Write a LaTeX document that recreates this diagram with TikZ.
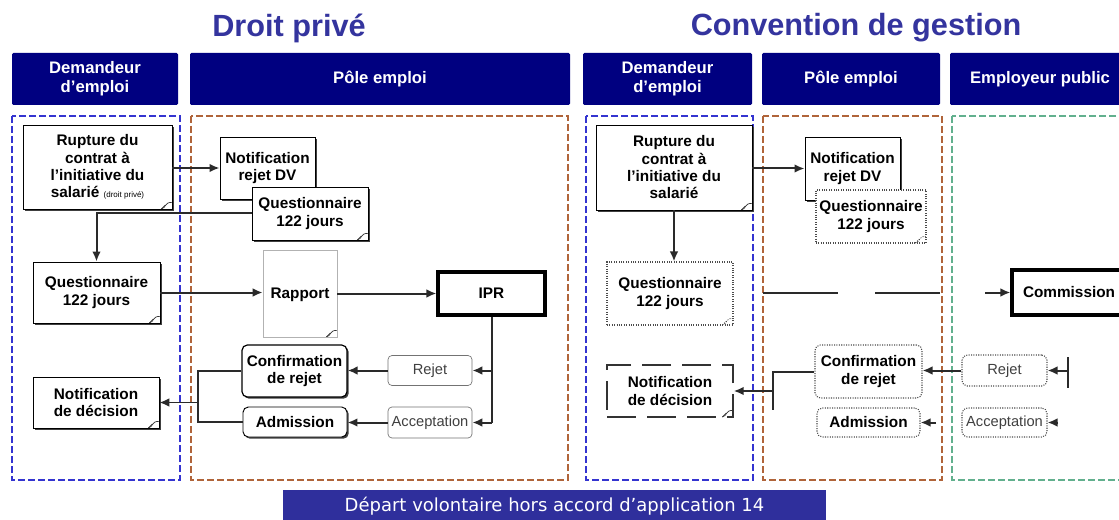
\documentclass[tikz,border=0pt]{standalone}
\usepackage{fontspec}
\setmainfont{Liberation Sans}
\newfontfamily\barfont{DejaVu Sans}
\usetikzlibrary{arrows.meta,shadows,calc}
\definecolor{navy}{HTML}{000080}
\definecolor{titleblue}{HTML}{34349E}
\definecolor{barblue}{HTML}{2F2F9C}
\definecolor{dblue}{HTML}{3434D0}
\definecolor{dbrown}{HTML}{B0643A}
\definecolor{dgreen}{HTML}{62B08E}
\definecolor{ink}{HTML}{2A2A2A}
\tikzset{
  sz/.style 2 args={minimum width=#1*0.75pt, minimum height=#2*0.75pt},
  nodetxt/.style={font=\fontsize{11.5}{13}\selectfont\bfseries, align=center, inner sep=0pt, text=black},
  plaintxt/.style={font=\fontsize{11}{13}\selectfont, align=center, inner sep=0pt, text=black!75},
  hdr/.style={fill=navy, text=white, font=\fontsize{12.5}{14.5}\selectfont\bfseries, align=center, inner sep=0pt, rounded corners=1pt},
  ttl/.style={text=titleblue, font=\fontsize{23}{26}\selectfont\bfseries, inner sep=0pt},
  shd/.style={drop shadow={shadow xshift=1.3pt, shadow yshift=-1.3pt, fill=black!75, opacity=1}},
  fold/.style={path picture={
      \draw[line width=0.5pt, black!80]
        ([xshift=-8pt]path picture bounding box.south east)
        .. controls ([xshift=-4pt,yshift=1pt]path picture bounding box.south east)
        and ([xshift=-6pt,yshift=5pt]path picture bounding box.south east) ..
        ([yshift=5pt]path picture bounding box.south east);
      \draw[line width=0.5pt, black!80]
        ([xshift=-8pt]path picture bounding box.south east) -- ([xshift=-5pt,yshift=3pt]path picture bounding box.south east);}},
  doc/.style={nodetxt, draw=black, line width=0.7pt, fill=white, fold, shd},
  faintdoc/.style={nodetxt, draw=black!30, line width=0.5pt, fill=white, fold},
  dotdoc/.style={nodetxt, draw=black!70, densely dotted, line width=0.8pt, fill=white, fold},
  rbox/.style={nodetxt, draw=black, line width=0.9pt, fill=white, rounded corners=4pt, shd},
  rthin/.style={plaintxt, draw=black!55, line width=0.5pt, fill=white, rounded corners=3pt},
  rdot/.style={nodetxt, draw=black!70, densely dotted, line width=0.8pt, fill=white, rounded corners=4pt},
  thick box/.style={nodetxt, draw=black, line width=2.3pt, fill=white},
  zone/.style={line width=1.1pt, dash pattern=on 5pt off 2.5pt},
  conn/.style={draw=ink, line width=1.5pt},
  arr/.style={conn, -{Latex[length=7.5pt,width=6.5pt]}}
}
\begin{document}
\begin{tikzpicture}[x=0.75pt,y=-0.75pt]
\useasboundingbox (0,0) rectangle (1119,520);
\fill[white] (0,0) rectangle (1119,520);

% titles
\node[ttl] (t1) at (289,28) {Droit privé};
\node[ttl] (t2) at (856,28) {Convention de gestion};

% headers
\node[hdr, sz={166}{52}] (h1) at (95,79) {Demandeur\\d’emploi};
\node[hdr, sz={380}{52}] (h2) at (380,79) {Pôle emploi};
\node[hdr, sz={169}{52}] (h3) at (667.5,79) {Demandeur\\d’emploi};
\node[hdr, sz={178}{52}] (h4) at (851,79) {Pôle emploi};
\node[hdr, sz={180}{52}] (h5) at (1040,79) {Employeur public};

% swimlanes
\draw[zone, dblue, line width=0.9pt] (12,116) rectangle (180,480);
\draw[zone, dbrown, line width=1.4pt] (191,116) rectangle (568,480);
\draw[zone, dblue, line width=1.4pt] (586,116) rectangle (753,480);
\draw[zone, dbrown] (763,116) rectangle (942,480);
\draw[zone, dgreen] (952,116) rectangle (1125,480);

% ---------- Droit privé ----------
\node[doc, sz={149}{84}] (lrup) at (97.5,167)
  {Rupture du\\contrat à\\l’initiative du\\salarié {\fontsize{6}{7}\selectfont\mdseries(droit privé)}};
\node[doc, fold/.style={}, sz={95}{62}] (lnot) at (267.5,168) {Notification\\rejet DV};
\node[doc, sz={116}{53}] (lqp) at (310,213.5) {Questionnaire\\122 jours};
\node[doc, sz={127}{61}] (lql) at (96.5,292.5) {Questionnaire\\122 jours};
\node[faintdoc, sz={74}{87}, text depth=0pt] (lrap) at (300,293.5) {Rapport};
\node[thick box, sz={107}{43}] (ipr) at (491.5,293.5) {IPR};
\node[rbox, sz={105}{52}] (lconf) at (294.5,371) {Confirmation\\de rejet};
\node[rbox, line width=0.7pt, sz={104}{30}] (ladm) at (295,422) {Admission};
\node[rthin, sz={84}{30}] (lrej) at (430,370.5) {Rejet};
\node[rthin, sz={84}{31}] (lacc) at (430,422.5) {Acceptation};
\node[doc, sz={126}{51}] (lnd) at (96,402.5) {Notification\\de décision};

\draw[arr] (lrup.east |- lnot.west) -- (lnot.west);
\draw[arr] (lqp.west) -| (lql.north);
\draw[arr] (lql.east) -- (lql.east -| lrap.west);
\draw[arr] (lrap.east |- ipr.west) -- (ipr.west);
\draw[conn] (ipr.south) -- (ipr.south |- lacc.east);
\draw[arr] (ipr.south |- lrej.east) -- (lrej.east);
\draw[arr] (ipr.south |- lacc.east) -- (lacc.east);
\draw[arr] (lrej.west) -- (lrej.west -| lconf.east);
\draw[arr] (lacc.west) -- (lacc.west -| ladm.east);
\coordinate (lj) at (198,371);
\draw[conn, line width=2pt] (lconf.west) -- (lconf.west -| lj) -- (ladm.west -| lj) -- (ladm.west);
\draw[arr, line width=1pt] (lj |- lnd.east) -- (lnd.east);

% ---------- Convention de gestion ----------
\node[doc, sz={156}{85}] (rrup) at (674,167.5) {Rupture du\\contrat à\\l’initiative du\\salarié};
\node[doc, fold/.style={}, sz={95}{63}] (rnot) at (852.5,168.5) {Notification\\rejet DV};
\node[dotdoc, sz={110}{53}] (rqp) at (871,216.5) {Questionnaire\\122 jours};
\node[dotdoc, sz={126}{63}] (rql) at (670,293.5) {Questionnaire\\122 jours};
\node[thick box, sz={114}{45}] (com) at (1069,292.5) {Commission};
\node[rdot, sz={107}{53}] (rconf) at (868.5,371.5) {Confirmation\\de rejet};
\node[rdot, sz={103}{29}] (radm) at (868.5,422.5) {Admission};
\node[rdot, plaintxt, sz={85}{31}] (rrej) at (1004.5,370.5) {Rejet};
\node[rdot, plaintxt, sz={85}{29}] (racc) at (1004.5,422.5) {Acceptation};
\node[nodetxt, draw=black!80, line width=1pt, dash pattern=on 22pt off 8pt, fill=white, fold, sz={126}{52}] (rnd) at (670,391) {Notification\\de décision};

\draw[arr] (rrup.east |- rnot.west) -- (rnot.west);
\draw[arr] (rrup.south) -- (rrup.south |- rql.north);
\coordinate (s1) at (763,292.5);
\coordinate (s2) at (838,292.5);
\coordinate (s3) at (875,292.5);
\coordinate (s4) at (940,292.5);
\coordinate (s5) at (985,292.5);
\draw[conn] (s1) -- (s2);
\draw[conn] (s3) -- (s4);
\draw[arr] (s5) -- (com.west);
\coordinate (bt) at (1068,357);
\coordinate (bb) at (1068,388);
\draw[conn] (bt) -- (bb);
\draw[arr] (bt |- rrej.east) -- (rrej.east);
\draw[arr] (rrej.west) -- (rrej.west -| rconf.east);
\coordinate (ae) at (1058,422.5);
\draw[arr] (ae) -- (racc.east);
\coordinate (ad) at (936,422.5);
\draw[arr] (ad) -- (radm.east);
\coordinate (rj) at (773,371.5);
\coordinate (rjb) at (773,410);
\draw[conn] (rconf.west) -- (rj) -- (rjb);
\draw[arr] (rj |- rnd.east) -- (rnd.east);

% bottom bar
\node[fill=barblue, text=white, font=\barfont\fontsize{13.5}{15}\selectfont, sz={543}{32}, inner sep=0pt] (bar) at (554.5,506)
  {Départ volontaire hors accord d’application 14};
\end{tikzpicture}
\end{document}
